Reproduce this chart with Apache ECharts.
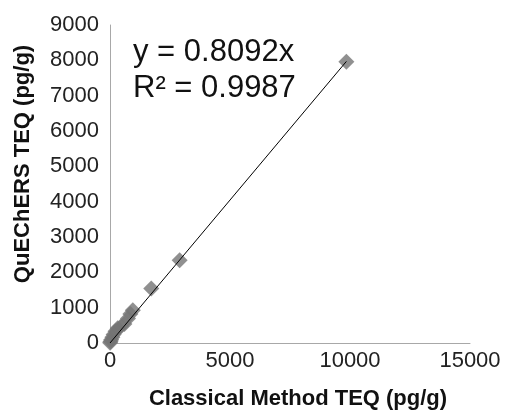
<!DOCTYPE html>
<html>
<head>
<meta charset="utf-8">
<script src="https://cdn.jsdelivr.net/npm/echarts@6/dist/echarts.min.js"></script>
<style>
html,body{margin:0;padding:0;background:#fff;}
#chart{width:505px;height:411px;}
</style>
</head>
<body>
<div id="chart"></div>
<script>
// Data
var classicalTEQ = [9850, 2900, 1720, 950, 850, 750, 600, 450, 320, 230, 150, 100, 50, 20, 5];
var quechersTEQ  = [7960, 2340, 1540, 930, 820, 690, 540, 470, 420, 330, 240, 160, 90, 40, 10];
var trendX = [0, 9850];
var trendY = [0, 7970];
var xTicks = [0, 5000, 10000, 15000];
var yTicks = [0, 1000, 2000, 3000, 4000, 5000, 6000, 7000, 8000, 9000];
var eqLine1 = 'y = 0.8092x';
var eqLine2 = 'R² = 0.9987';
var xTitle = 'Classical Method TEQ (pg/g)';
var yTitle = 'QuEChERS TEQ (pg/g)';

var pts = classicalTEQ.map(function(x, i){ return [x, quechersTEQ[i]]; });
var trend = trendX.map(function(x, i){ return [x, trendY[i]]; });

var chart = echarts.init(document.getElementById('chart'), null, {renderer:'canvas'});
var font = 'Liberation Sans, Arial, Helvetica, sans-serif';
chart.setOption({
  animation: false,
  backgroundColor: '#fff',
  grid: {left: 110, right: 35, top: 25, bottom: 68, containLabel: false},
  xAxis: {
    type: 'value', min: xTicks[0], max: xTicks[xTicks.length-1], interval: 5000,
    axisLine: {show: true, lineStyle: {color: '#a8a8a8', width: 1}},
    axisTick: {show: false},
    splitLine: {show: false},
    axisLabel: {color: '#222', fontFamily: font, fontSize: 22, margin: 7, formatter: function(v){ return String(v); }}
  },
  yAxis: {
    type: 'value', min: yTicks[0], max: yTicks[yTicks.length-1], interval: 1000,
    axisLine: {show: true, lineStyle: {color: '#a8a8a8', width: 1}},
    axisTick: {show: false},
    splitLine: {show: false},
    axisLabel: {color: '#222', fontFamily: font, fontSize: 22, margin: 11, formatter: function(v){ return String(v); }}
  },
  series: [
    {
      type: 'scatter', data: pts, symbol: 'diamond', symbolSize: 16,
      itemStyle: {color: '#747474'}, z: 2
    },
    {
      type: 'line', data: trend, symbol: 'none',
      lineStyle: {color: '#000', width: 1}, z: 3
    }
  ],
  graphic: [
    {type: 'text', left: 133, top: 34, style: {text: eqLine1 + '\n' + eqLine2, fontFamily: font, fontSize: 31, lineHeight: 36, fill: '#111'}},
    {type: 'text', x: 298, y: 399, style: {text: xTitle, fontFamily: font, fontSize: 22, fontWeight: 'bold', fill: '#111', align: 'center', verticalAlign: 'middle'}},
    {type: 'text', x: 23, y: 164, rotation: Math.PI/2, style: {text: yTitle, fontFamily: font, fontSize: 22, fontWeight: 'bold', fill: '#111', align: 'center', verticalAlign: 'middle'}}
  ]
});
</script>
</body>
</html>
